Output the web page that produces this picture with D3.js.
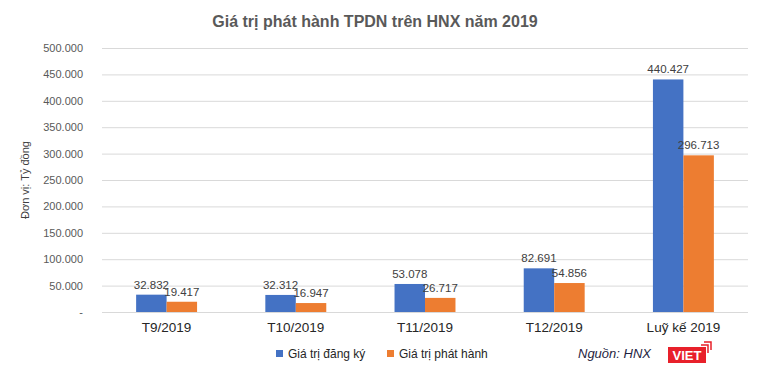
<!DOCTYPE html>
<html>
<head>
<meta charset="utf-8">
<script src="https://cdn.jsdelivr.net/npm/d3@7"></script>
<style>
  body { margin: 0; background: #ffffff; }
</style>
</head>
<body>
<div id="chart"></div>
<script>
// Chart data
const categories = ["T9/2019", "T10/2019", "T11/2019", "T12/2019", "Luỹ kế 2019"];
const seriesNames = ["Giá trị đăng ký", "Giá trị phát hành"];
const dangKy = [32832, 32312, 53078, 82691, 440427];
const phatHanh = [19417, 16947, 26717, 54856, 296713];
const yTicks = [0, 50000, 100000, 150000, 200000, 250000, 300000, 350000, 400000, 450000, 500000];

const width = 762;
const height = 374;
const margin = { top: 48, right: 14, bottom: 62, left: 102 };

const svg = d3.select("#chart")
  .append("svg")
  .attr("width", width)
  .attr("height", height)
  .style("background", "#ffffff");

// Scales
const x = d3.scaleBand()
  .domain(categories)
  .range([margin.left, width - margin.right])
  .paddingInner(0)
  .paddingOuter(0);

const xSub = d3.scaleBand()
  .domain(seriesNames)
  .range([0, x.bandwidth()])
  .paddingOuter(1.12)
  .paddingInner(0);

const y = d3.scaleLinear()
  .domain([0, 500000])
  .range([height - margin.bottom, margin.top]);

const color = d3.scaleOrdinal()
  .domain(seriesNames)
  .range(["#4472c4", "#ed7d31"]);

const fmt = v => v === 0 ? "-" : d3.format(",")(v).replace(/,/g, ".");

// Grid lines
svg.append("g")
  .attr("transform", `translate(${margin.left},0)`)
  .call(d3.axisLeft(y)
    .tickValues(yTicks)
    .tickSize(-(width - margin.left - margin.right))
    .tickFormat(""))
  .call(g => g.select(".domain").remove())
  .call(g => g.selectAll("line").attr("stroke", "#d9d9d9").attr("stroke-width", 1));

// Y axis labels
svg.append("g")
  .attr("transform", `translate(${margin.left - 19},0)`)
  .call(d3.axisLeft(y).tickValues(yTicks).tickSize(0).tickFormat(fmt))
  .call(g => g.select(".domain").remove())
  .selectAll("text")
  .attr("x", 0)
  .style("font-family", "Liberation Sans, Arial, sans-serif")
  .style("font-size", "11px")
  .attr("fill", "#595959");

// X axis labels
svg.append("g")
  .attr("transform", `translate(0,${height - margin.bottom})`)
  .call(d3.axisBottom(x).tickSize(0))
  .call(g => g.select(".domain").remove())
  .selectAll("text")
  .attr("dy", "0")
  .attr("y", 20)
  .style("font-family", "Liberation Sans, Arial, sans-serif")
  .style("font-size", "13.5px")
  .attr("fill", "#262626");

// Bars
const rows = categories.map((c, i) => ({ cat: c, values: [dangKy[i], phatHanh[i]] }));

const groups = svg.selectAll(".group")
  .data(rows)
  .join("g")
  .attr("transform", d => `translate(${x(d.cat)},0)`);

groups.selectAll("rect")
  .data(d => d.values.map((v, j) => ({ name: seriesNames[j], value: v })))
  .join("rect")
  .attr("x", d => xSub(d.name))
  .attr("y", d => y(d.value))
  .attr("width", xSub.bandwidth())
  .attr("height", d => y(0) - y(d.value))
  .attr("fill", d => color(d.name));

// Data labels
groups.selectAll(".lbl")
  .data(d => d.values.map((v, j) => ({ name: seriesNames[j], value: v })))
  .join("text")
  .attr("class", "lbl")
  .attr("x", d => xSub(d.name) + xSub.bandwidth() / 2)
  .attr("y", d => y(d.value) - 6)
  .attr("text-anchor", "middle")
  .style("font-family", "Liberation Sans, Arial, sans-serif")
  .style("font-size", "11.5px")
  .attr("fill", "#404040")
  .text(d => fmt(d.value));

// Title
svg.append("text")
  .attr("x", 375)
  .attr("y", 27)
  .attr("text-anchor", "middle")
  .style("font-family", "Liberation Sans, Arial, sans-serif")
  .style("font-weight", "bold")
  .style("font-size", "16px")
  .attr("fill", "#595959")
  .text("Giá trị phát hành TPDN trên HNX năm 2019");

// Y axis title
svg.append("text")
  .attr("transform", "rotate(-90)")
  .attr("x", -180)
  .attr("y", 29)
  .attr("text-anchor", "middle")
  .style("font-family", "Liberation Sans, Arial, sans-serif")
  .style("font-size", "11px")
  .attr("fill", "#404040")
  .text("Đơn vị: Tỷ đồng");

// Legend
const legendX = [276, 387];
seriesNames.forEach((name, i) => {
  svg.append("rect")
    .attr("x", legendX[i])
    .attr("y", 350)
    .attr("width", 7)
    .attr("height", 7)
    .attr("fill", color(name));
  svg.append("text")
    .attr("x", legendX[i] + 12)
    .attr("y", 358)
    .style("font-family", "Liberation Sans, Arial, sans-serif")
    .style("font-size", "12px")
    .attr("fill", "#262626")
    .text(name);
});

// Source note
svg.append("text")
  .attr("x", 578)
  .attr("y", 358)
  .style("font-family", "Liberation Sans, Arial, sans-serif")
  .style("font-style", "italic")
  .style("font-size", "13px")
  .attr("fill", "#1f1f3f")
  .text("Nguồn: HNX");

// VIET logo
const logo = svg.append("g").attr("transform", "translate(668,347)");
logo.append("rect")
  .attr("width", 38)
  .attr("height", 16)
  .attr("fill", "#e8202a");
logo.append("path")
  .attr("d", "M33,-2 H40 V6 M36,-5 H43 V3")
  .attr("fill", "none")
  .attr("stroke", "#e8202a")
  .attr("stroke-width", 1.5);
logo.append("text")
  .attr("x", 19)
  .attr("y", 13)
  .attr("text-anchor", "middle")
  .style("font-family", "Liberation Sans, Arial, sans-serif")
  .style("font-weight", "bold")
  .style("font-size", "13px")
  .attr("fill", "#ffffff")
  .text("VIET");
</script>
</body>
</html>
